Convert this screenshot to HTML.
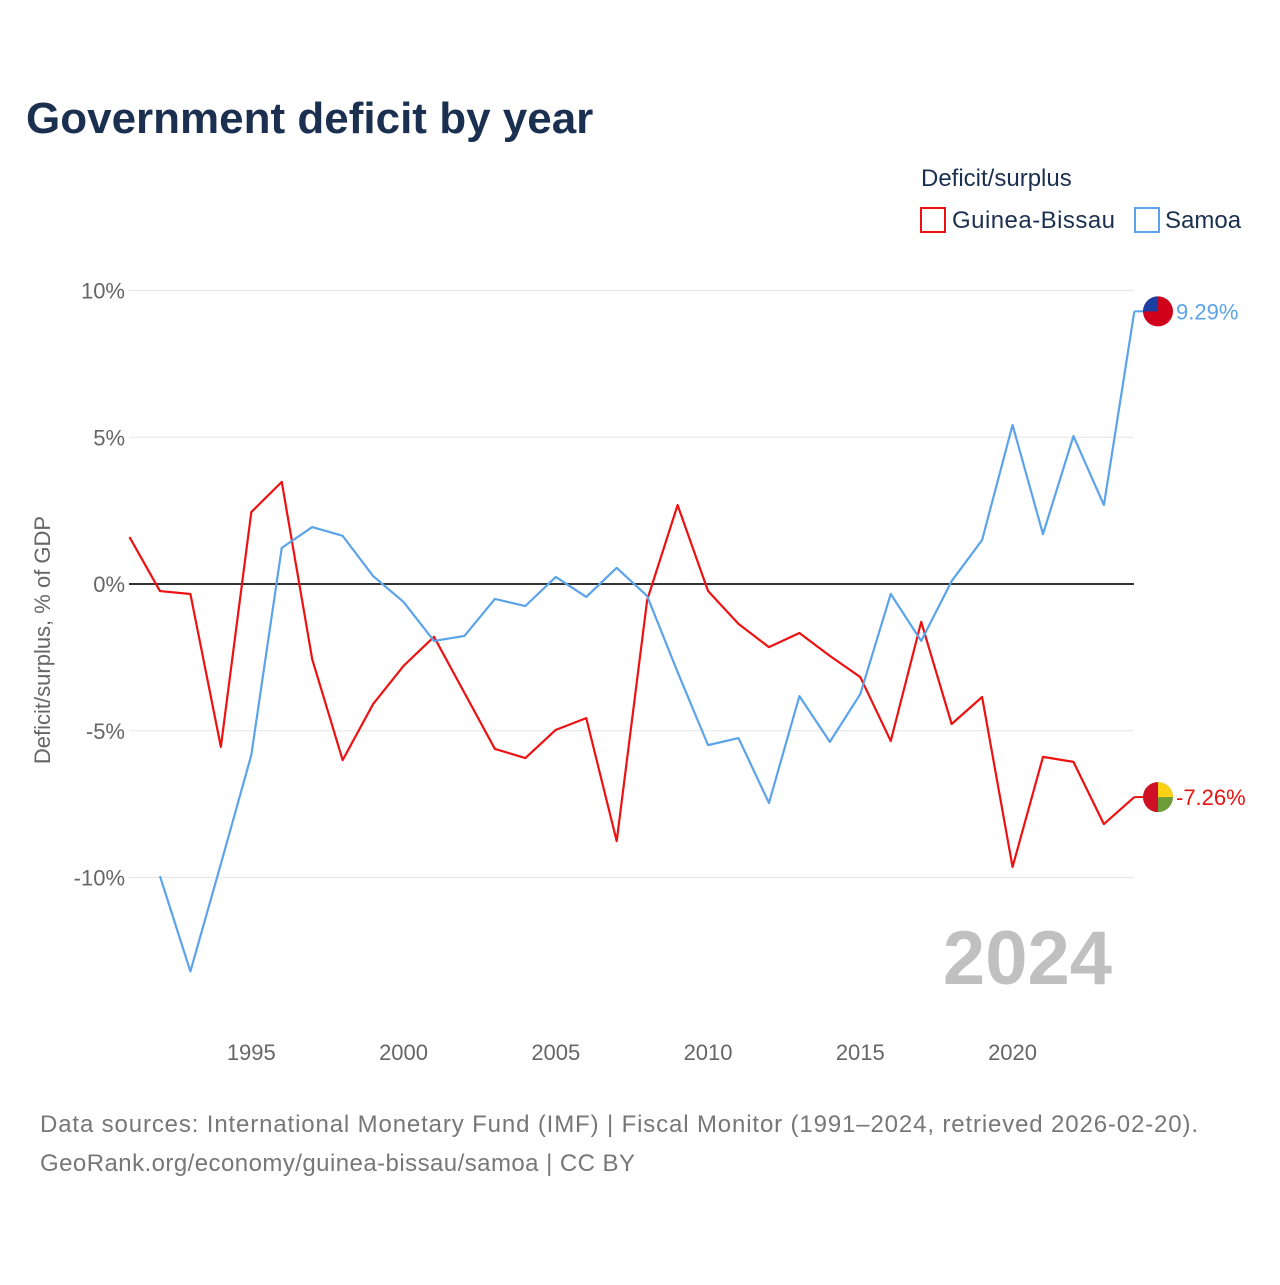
<!DOCTYPE html>
<html><head><meta charset="utf-8">
<style>
body{margin:0;background:#fff;font-family:"Liberation Sans",sans-serif;}
svg text{font-family:"Liberation Sans",sans-serif;}
</style></head>
<body>
<svg id="chart" width="1280" height="1280" viewBox="0 0 1280 1280" xmlns="http://www.w3.org/2000/svg">
<rect width="1280" height="1280" fill="#fff"/>
<text x="26" y="133" font-size="44" font-weight="bold" fill="#1b3050">Government deficit by year</text>
<text x="921" y="186" font-size="24" fill="#1b3050">Deficit/surplus</text>
<g>
<rect x="921" y="208" width="24" height="24" fill="none" stroke="#ee1111" stroke-width="2"/>
<text x="952" y="228" font-size="24" fill="#1b3050" textLength="163">Guinea-Bissau</text></g>
<g>
<rect x="1135" y="208" width="24" height="24" fill="none" stroke="#5ba3ea" stroke-width="2"/>
<text x="1165" y="228" font-size="24" fill="#1b3050">Samoa</text></g>
<text transform="translate(50,640) rotate(-90)" text-anchor="middle" font-size="22" fill="#666">Deficit/surplus, % of GDP</text>
<g id="grid"></g><g id="series"></g>
<text x="1112" y="984" text-anchor="end" font-size="76" font-weight="bold" fill="#c0c0c0">2024</text>
<text x="40" y="1132" font-size="24" fill="#777" textLength="1158">Data sources: International Monetary Fund (IMF) | Fiscal Monitor (1991–2024, retrieved 2026-02-20).</text>
<text x="40" y="1171" font-size="24" fill="#777" textLength="595">GeoRank.org/economy/guinea-bissau/samoa | CC BY</text>
</svg>
<script>
const yTicks=[10,5,0,-5,-10];
const xTicks=[1995,2000,2005,2010,2015,2020];
const gbYears=[1991,1992,1993,1994,1995,1996,1997,1998,1999,2000,2001,2002,2003,2004,2005,2006,2007,2008,2009,2010,2011,2012,2013,2014,2015,2016,2017,2018,2019,2020,2021,2022,2023,2024];
const gbValues=[1.6,-0.24,-0.34,-5.55,2.45,3.48,-2.56,-6.0,-4.09,-2.79,-1.8,-3.71,-5.62,-5.93,-4.97,-4.57,-8.76,-0.55,2.69,-0.24,-1.36,-2.15,-1.67,-2.45,-3.17,-5.35,-1.29,-4.77,-3.85,-9.64,-5.89,-6.06,-8.18,-7.26];
const wsYears=[1992,1993,1994,1995,1996,1997,1998,1999,2000,2001,2002,2003,2004,2005,2006,2007,2008,2009,2010,2011,2012,2013,2014,2015,2016,2017,2018,2019,2020,2021,2022,2023,2024];
const wsValues=[-9.95,-13.2,-9.54,-5.83,1.23,1.94,1.64,0.27,-0.61,-1.94,-1.77,-0.51,-0.75,0.24,-0.44,0.55,-0.41,-3.0,-5.49,-5.25,-7.46,-3.82,-5.38,-3.75,-0.34,-1.94,0.1,1.5,5.42,1.7,5.04,2.69,9.29];

const NS="http://www.w3.org/2000/svg";
const X=yr=>129.5+(yr-1991)*30.45;
const Y=v=>584-v*29.35;
function mk(tag,attrs,parent){const e=document.createElementNS(NS,tag);for(const k in attrs)e.setAttribute(k,attrs[k]);parent.appendChild(e);return e;}
const grid=document.getElementById('grid'),series=document.getElementById('series');
yTicks.forEach(v=>{
  const l=mk('line',{x1:129,x2:1134,y1:Y(v),y2:Y(v),stroke:v===0?'#333':'#e6e6e6','stroke-width':v===0?2:1},grid);
  
  
  const t=mk('text',{x:125,y:Y(v)+8,'text-anchor':'end','font-size':22,fill:'#666'},grid);
  t.textContent=v+'%';
  
  
});
xTicks.forEach(yr=>{
  const t=mk('text',{x:X(yr),y:1060,'text-anchor':'middle','font-size':22,fill:'#666'},grid);
  t.textContent=yr;
  
  
});
function line(years,vals,color,name){
  const p=mk('polyline',{points:years.map((y,i)=>X(y)+','+Y(vals[i])).join(' '),fill:'none',stroke:color,'stroke-width':2.2,'stroke-linejoin':'round'},series);
  
  
  const lv=vals[vals.length-1],ly=Y(lv);
  const c=mk('line',{x1:X(years[years.length-1]),x2:1150,y1:ly,y2:ly,stroke:color,'stroke-width':2},series);
  
  
  const t=mk('text',{x:1176,y:ly+8,'font-size':22,fill:color},series);
  t.textContent=lv.toFixed(2)+'%';
  
  
  return ly;
}
const gy=line(gbYears,gbValues,'#ee1111','guinea-bissau-line');
const wy=line(wsYears,wsValues,'#5ba3ea','samoa-line');
const f1=mk('g',{},series);


const cp=mk('clipPath',{id:'c1'},f1);
mk('circle',{cx:1158,cy:gy,r:15},cp);
mk('rect',{x:1143,y:gy-15,width:30,height:30,fill:'#6f9c3a','clip-path':'url(#c1)'},f1);
mk('rect',{x:1143,y:gy-15,width:30,height:15,fill:'#fcd116','clip-path':'url(#c1)'},f1);
mk('rect',{x:1143,y:gy-15,width:15,height:30,fill:'#ce1126','clip-path':'url(#c1)'},f1);
const f2=mk('g',{},series);


mk('circle',{cx:1158,cy:wy,r:15,fill:'#d0021b'},f2);
mk('path',{d:`M1143 ${wy} A15 15 0 0 1 1158 ${wy-15} L1158 ${wy} Z`,fill:'#1a3fa0'},f2);
</script>
</body></html>
